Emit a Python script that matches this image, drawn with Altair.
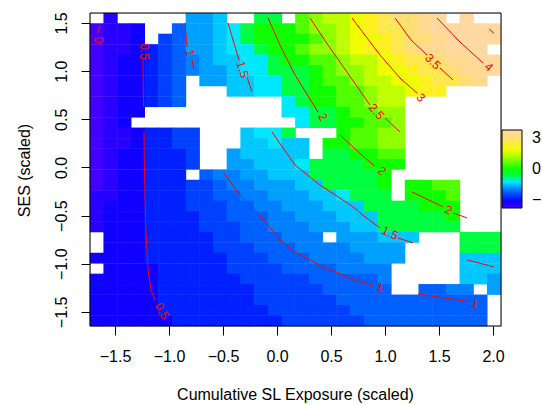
import altair as alt
import pandas as pd

# grid of cell centres (data units)
x_centers = [-1.668, -1.541, -1.414, -1.288, -1.161, -1.034, -0.907, -0.780, -0.653, -0.527,
             -0.400, -0.273, -0.146, -0.019, 0.108, 0.234, 0.361, 0.488, 0.615, 0.742,
             0.869, 0.995, 1.122, 1.249, 1.376, 1.503, 1.630, 1.756, 1.883, 2.010]
y_centers = [1.549, 1.441, 1.333, 1.224, 1.116, 1.008, 0.899, 0.791, 0.683, 0.574,
             0.466, 0.358, 0.249, 0.141, 0.033, -0.076, -0.184, -0.292, -0.401, -0.509,
             -0.617, -0.726, -0.834, -0.942, -1.051, -1.159, -1.267, -1.376, -1.484, -1.592]

# cell values, one string per row (top row first); '.' = empty
grid_rows = [
    ".b.....hhi..kk.mnoopqrsstu.u..",
    "abbc..fhhijklllmnnopqrrstuuuuu",
    "abbc.efhhijkllllmnoppqrsstuuuu",
    "abbcdefhhijjkllmnnopqqrsttuuu",
    "abccdefghiijjkllmmnoopqrrsttuu",
    "abccdefghhijjkkklmnnoppqrrsttu",
    "abccdef.hhiijjkklmmnooppqrrst.",
    "abccdef...iijjkkllmmnoopqq....",
    "abccdef.......jkllmmnoo.......",
    "abcc..........jjkklmmnn.......",
    "abc............jkkllmmn.......",
    "abbcddee...ijjk...lmmnn.......",
    "abbcddee...iijii.llmmnn.......",
    "abccddde..hiiiii.kkllmm.......",
    "abccddde..hhiiijkkkklll.......",
    "abccddd.fgghhiiikkkkkl........",
    "abccdddeefgghhhiikkkkl.llmm...",
    "bbccdddeeffgghhhiijkkk.lllm...",
    "bcccdddeeeffgghhhiiikkkklll...",
    "bcccddddeefffgghhhiiikkkkkl...",
    "bcccddddeeeffggghhhiikkkkkk...",
    ".cccdddddeefffggg.hhhiii...kkk",
    ".cccdddddeeefffgggghhhh....kkk",
    "ccccddddddeeefffgggghhh....iii",
    ".ccccdddddeeeeffffgggg.....iii",
    "cccccddddddeeeeefffffg.....iih",
    "cccccdddddddeeeeefffff..ffgg.h",
    "cccccdddddddeeeeeefffffffffff.",
    "cccccddddddddeeeeeeffffffffff.",
    "ccccccddddddddeeeeeefffffffff.",
]

level_codes = list("abcdefghijklmnopqrstu")
level_values = [-3.0, -2.75, -2.5, -2.25, -2.0, -1.75, -1.55, -1.4, -1.2, -1.0,
                -0.5, 0.0, 0.4, 0.8, 1.1, 1.4, 1.8, 2.1, 2.4, 2.7, 3.0]
level_colors = ["#4400ff", "#2800ff", "#1000ff", "#0020ff", "#0040ff", "#0060ff", "#0080ff",
                "#00a0ff", "#00c8ff", "#00e8ff", "#00ff40", "#10ff00", "#50ff00", "#90ff00",
                "#c0ff00", "#f0ff00", "#fff020", "#ffe850", "#ffde78", "#ffda90", "#ffd9a0"]

# contour lines (data units), one list per drawn piece
contour_pieces = [
    [(-1.639, 1.479), (-1.657, 1.396)],
    [(-1.241, 1.116), (-1.236, 0.628)],
    [(-1.231, 0.368), (-1.229, 0.080), (-1.216, -0.616), (-1.194, -1.063), (-1.167, -1.271), (-1.130, -1.375)],
    [(-0.852, 1.500), (-0.833, 1.251)],
    [(-0.787, 1.116), (-0.769, 1.012)],
    [(-0.500, -0.047), (-0.343, -0.286), (-0.176, -0.473), (0.028, -0.753), (0.167, -0.877),
     (0.426, -1.033), (0.741, -1.178), (0.889, -1.220)],
    [(1.306, -1.313), (1.787, -1.396)],
    [(-0.454, 1.500), (-0.352, 1.116)],
    [(-0.278, 0.939), (-0.231, 0.783)],
    [(-0.046, 0.368), (0.056, 0.202), (0.167, 0.025), (0.398, -0.182), (0.694, -0.400),
     (0.815, -0.514), (0.954, -0.628)],
    [(1.120, -0.732), (1.259, -0.784)],
    [(1.759, -0.960), (2.009, -1.033)],
    [(-0.083, 1.552), (0.028, 1.271), (0.167, 0.960), (0.380, 0.576)],
    [(0.583, 0.337), (0.815, 0.098), (0.907, 0.015)],
    [(1.250, -0.254), (1.537, -0.410)],
    [(1.630, -0.472), (1.759, -0.524)],
    [(0.306, 1.552), (0.472, 1.271), (0.648, 0.991), (0.861, 0.648)],
    [(1.000, 0.514), (1.139, 0.368)],
    [(0.694, 1.552), (0.954, 1.167), (1.139, 0.928), (1.296, 0.773)],
    [(1.093, 1.552), (1.241, 1.323), (1.389, 1.167)],
    [(1.509, 1.033), (1.630, 0.908)],
    [(1.481, 1.552), (1.694, 1.303), (1.907, 1.085)],
    [(1.966, 1.437), (2.009, 1.393)],
]

label_text = ["0", "0.5", "0.5", "1", "1", "1", "1.5", "1.5", "2", "2", "2", "2.5", "3", "3.5", "4"]
label_x = [-1.657, -1.236, -1.065, -0.806, 0.954, 1.833, -0.319, 1.046, 0.426, 0.972, 1.588, 0.921, 1.333, 1.444, 1.963]
label_y = [1.323, 1.204, -1.490, 1.189, -1.240, -1.413, 1.017, -0.680, 0.524, -0.036, -0.441, 0.581, 0.726, 1.100, 1.043]
label_angle = [90, 90, 62, 80, 14, 8, 72, 25, 58, 38, 28, 50, 45, 45, 42]

x_ticks = [-1.5, -1.0, -0.5, 0.0, 0.5, 1.0, 1.5, 2.0]
y_ticks = [-1.5, -1.0, -0.5, 0.0, 0.5, 1.0, 1.5]
legend_ticks = [-3, 0, 3]
X_DOMAIN = [-1.7315, 2.074]
Y_DOMAIN = [-1.6464, 1.6038]

# ---- build tables ----
val_of = dict(zip(level_codes, level_values))
hw = (x_centers[1] - x_centers[0]) / 2 * 1.04
hh = (y_centers[0] - y_centers[1]) / 2 * 1.04
cells = []
for r, row in enumerate(grid_rows):
    for c, ch in enumerate(row):
        if ch == ".":
            continue
        cells.append({"x0": x_centers[c] - hw, "x1": x_centers[c] + hw,
                      "y0": y_centers[r] - hh, "y1": y_centers[r] + hh,
                      "v": val_of[ch]})
cells = pd.DataFrame(cells)

lines = []
for i, piece in enumerate(contour_pieces):
    for j, (px, py) in enumerate(piece):
        lines.append({"seg": i, "ord": j, "x": px, "y": py})
lines = pd.DataFrame(lines)

labels = pd.DataFrame({"t": label_text, "x": label_x, "y": label_y, "a": label_angle})
frame = pd.DataFrame({"x0": [X_DOMAIN[0]], "x1": [X_DOMAIN[1]], "y0": [Y_DOMAIN[0]], "y1": [Y_DOMAIN[1]]})

FONT = "Liberation Sans"
xscale = alt.Scale(domain=X_DOMAIN, nice=False, zero=False)
yscale = alt.Scale(domain=Y_DOMAIN, nice=False, zero=False)
cscale = alt.Scale(domain=level_values, range=level_colors, interpolate="rgb")

xaxis = alt.Axis(values=x_ticks, format=".1f", title="Cumulative SL Exposure (scaled)",
                 grid=False, domain=False, tickSize=9, tickColor="black", labelFontSize=16,
                 labelFont=FONT, labelColor="black", labelBaseline="alphabetic", labelPadding=26,
                 labelFlush=False, titleFont=FONT, titleFontSize=16, titleFontWeight="normal",
                 titleColor="black", titleX=205, titleY=73, titleBaseline="alphabetic")
yaxis = alt.Axis(values=y_ticks, format=".1f", title="SES (scaled)", grid=False, domain=False,
                 tickSize=9, tickColor="black", labelFontSize=16, labelFont=FONT, labelColor="black",
                 labelAngle=270, labelAlign="center", labelBaseline="alphabetic", labelPadding=15,
                 labelFlush=False, titleFont=FONT, titleFontSize=16, titleFontWeight="normal",
                 titleColor="black", titleAngle=270, titleX=-61, titleY=157, titleAlign="center",
                 titleBaseline="alphabetic")

heat = alt.Chart(cells).mark_rect(strokeWidth=0).encode(
    x=alt.X("x0:Q", scale=xscale, axis=xaxis),
    x2="x1:Q",
    y=alt.Y("y0:Q", scale=yscale, axis=yaxis),
    y2="y1:Q",
    color=alt.Color("v:Q", scale=cscale,
                    legend=alt.Legend(type="gradient", orient="none", legendX=412, legendY=117,
                                      direction="vertical", gradientLength=78, gradientThickness=20,
                                      title=None, values=legend_ticks, format="d", labelFontSize=16,
                                      labelFont=FONT, labelColor="black", labelOffset=10,
                                      labelBaseline="middle", padding=0,
                                      gradientStrokeColor="black", gradientStrokeWidth=1)),
)

contours = alt.Chart(lines).mark_line(color="#ff0000", strokeWidth=1).encode(
    x="x:Q", y="y:Q", detail="seg:N", order="ord:Q")

texts = alt.Chart(labels).mark_text(color="#ff0000", font=FONT, fontSize=12,
                                    align="center", baseline="middle").encode(
    x="x:Q", y="y:Q", text="t:N", angle=alt.Angle("a:Q", scale=None))

box = alt.Chart(frame).mark_rect(filled=False, stroke="black", strokeWidth=1).encode(
    x="x0:Q", x2="x1:Q", y="y0:Q", y2="y1:Q")

chart = alt.layer(heat, contours, texts, box).properties(
    width=411, height=313,
    padding={"left": 90, "top": 13, "right": 41, "bottom": 79},
    autosize=alt.AutoSizeParams(type="none"),
).configure_view(stroke=None).configure(background="white")

chart.save("out.html", embed_options={"renderer": "svg", "actions": False})
